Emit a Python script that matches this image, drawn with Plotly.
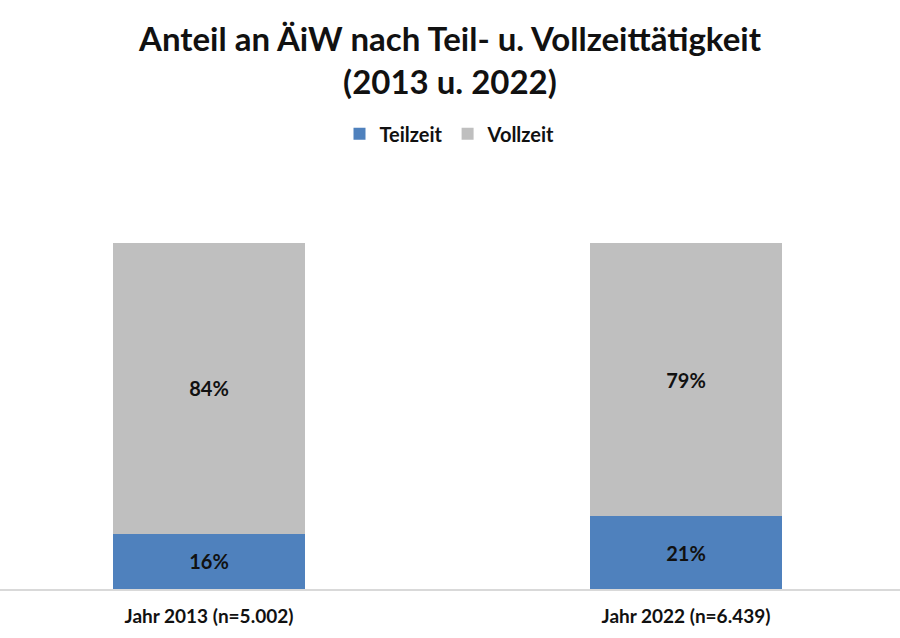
import plotly.graph_objects as go

categories = ["Jahr 2013 (n=5.002)", "Jahr 2022 (n=6.439)"]
teilzeit = [16, 21]
vollzeit = [84, 79]
title_lines = ["Anteil an ÄiW nach Teil- u. Vollzeittätigkeit", "(2013 u. 2022)"]

FONT = "Lato, 'Open Sans', sans-serif"
TXT = "#111111"

fig = go.Figure()
fig.add_trace(go.Bar(
    x=categories, y=teilzeit, name="Teilzeit",
    marker=dict(color="#4F81BD", line=dict(width=0)),
    text=[f"{v}%" for v in teilzeit], textposition="inside",
    insidetextanchor="middle",
    textfont=dict(family=FONT, size=20, color=TXT, weight="bold"),
))
fig.add_trace(go.Bar(
    x=categories, y=vollzeit, name="Vollzeit",
    marker=dict(color="#BFBFBF", line=dict(width=0)),
    text=[f"{v}%" for v in vollzeit], textposition="inside",
    insidetextanchor="middle",
    textfont=dict(family=FONT, size=20, color=TXT, weight="bold"),
))

fig.update_layout(
    width=900, height=638,
    barmode="stack", bargap=0.5975,
    paper_bgcolor="white", plot_bgcolor="white",
    margin=dict(l=0, r=0, t=243, b=49),
    legend=dict(
        orientation="h", x=0.5, xanchor="center", y=0.821, yref="container",
        yanchor="top",
        font=dict(family=FONT, size=20, color=TXT, weight="bold"),
        traceorder="normal",
    ),
    uniformtext=dict(mode="show", minsize=10),
    showlegend=True,
)
fig.add_annotation(
    text="<br>".join(title_lines), showarrow=False,
    xref="paper", yref="paper", x=0.5, y=(589 - 59) / 346,
    xanchor="center", yanchor="middle",
    font=dict(family=FONT, size=33, color=TXT, weight="bold"),
)
fig.update_xaxes(
    range=[-209/477, 1 + 214/477],
    showline=True, linecolor="#D9D9D9", linewidth=2,
    ticks="", showgrid=False, ticklabelstandoff=9,
    tickfont=dict(family=FONT, size=19, color=TXT, weight="bold"),
)
fig.update_yaxes(range=[0, 100], visible=False, showgrid=False)

fig.write_html("out.html")
